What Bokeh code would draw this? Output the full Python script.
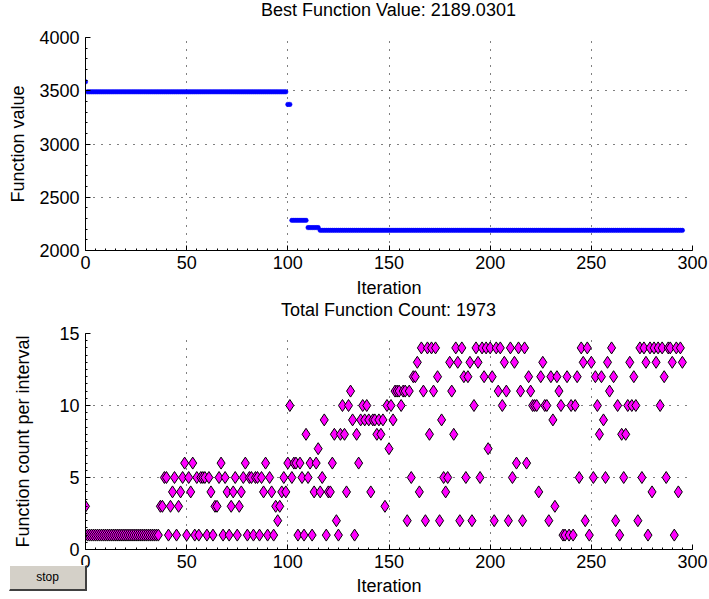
from bokeh.plotting import figure
from bokeh.layouts import column
from bokeh.models import SingleIntervalTicker, Range1d, Div
from bokeh.embed import file_html
from bokeh.resources import INLINE

# ---- data -------------------------------------------------------------
# Best function value: runs of constant value (first iteration, last iteration, value)
run_first = [0, 1, 100, 102, 110, 116]
run_last = [0, 99, 101, 109, 115, 295]
run_value = [3584, 3490, 3372, 2283, 2215, 2189.0301]

# Function count per interval, one value per iteration (0..295)
count_per_interval = [
    3, 1, 1, 1, 1, 1, 1, 1, 1, 1,
    1, 1, 1, 1, 1, 1, 1, 1, 1, 1,
    1, 1, 1, 1, 1, 1, 1, 1, 1, 1,
    1, 1, 1, 1, 1, 1, 1, 3, 3, 5,
    5, 1, 3, 4, 5, 1, 3, 4, 5, 6,
    1, 5, 4, 6, 1, 5, 1, 5, 5, 5,
    1, 5, 4, 1, 3, 3, 5, 6, 1, 5,
    4, 1, 3, 4, 5, 1, 3, 4, 5, 6,
    1, 5, 5, 1, 5, 5, 1, 5, 4, 6,
    1, 5, 4, 1, 3, 2, 3, 4, 5, 4,
    6, 10, 5, 6, 6, 1, 6, 5, 1, 8,
    5, 6, 1, 4, 6, 7, 4, 5, 9, 1,
    4, 4, 6, 8, 2, 1, 8, 10, 8, 4,
    10, 11, 9, 1, 8, 6, 9, 10, 9, 10,
    9, 4, 9, 9, 8, 9, 8, 9, 3, 10,
    7, 10, 9, 11, 11, 11, 10, 11, 11, 2,
    11, 5, 12, 12, 13, 4, 14, 11, 2, 14,
    8, 14, 11, 14, 12, 2, 9, 5, 4, 5,
    13, 11, 8, 14, 13, 2, 14, 12, 5, 12,
    13, 2, 10, 14, 13, 5, 14, 12, 14, 7,
    14, 12, 2, 14, 11, 14, 10, 13, 11, 2,
    14, 5, 13, 6, 14, 11, 2, 14, 6, 12,
    11, 10, 10, 10, 4, 12, 13, 10, 10, 2,
    12, 9, 3, 12, 11, 10, 1, 1, 12, 1,
    10, 1, 10, 12, 5, 14, 13, 2, 14, 1,
    13, 5, 12, 10, 8, 12, 9, 5, 13, 11,
    14, 12, 2, 10, 1, 8, 5, 8, 10, 13,
    10, 12, 10, 2, 14, 5, 14, 13, 1, 14,
    4, 14, 13, 14, 10, 14, 12, 5, 14, 14,
    13, 1, 14, 4, 14, 13,
]

best_title = "Best Function Value: 2189.0301"
count_title = "Total Function Count: 1973"
x_label = "Iteration"
y_label_top = "Function value"
y_label_bottom = "Function count per interval"
button_text = "stop"

best_iter = []
best_val = []
for a, b, v in zip(run_first, run_last, run_value):
    for i in range(a, b + 1):
        best_iter.append(i)
        best_val.append(v)
count_iter = list(range(len(count_per_interval)))

FONT = "Liberation Sans"
FS = "18px"
W = 709
LEFT = 85
RIGHT = 17


def style(p, ylabel, y_interval, y_minor, ylab_standoff, lab_standoff, xlab_standoff):
    p.outline_line_color = None
    p.background_fill_color = "white"
    p.border_fill_color = "white"
    p.xaxis.ticker = SingleIntervalTicker(interval=50, num_minor_ticks=10)
    p.yaxis.ticker = SingleIntervalTicker(interval=y_interval, num_minor_ticks=y_minor)
    for ax in (p.xaxis[0], p.yaxis[0]):
        ax.axis_line_color = "black"
        ax.major_tick_line_color = "black"
        ax.minor_tick_line_color = "black"
        ax.major_tick_in = 5
        ax.major_tick_out = 0
        ax.minor_tick_in = 2
        ax.minor_tick_out = 0
        ax.major_label_text_font = FONT
        ax.major_label_text_font_size = FS
        ax.major_label_text_color = "black"
        ax.axis_label_text_font = FONT
        ax.axis_label_text_font_size = FS
        ax.axis_label_text_font_style = "normal"
        ax.axis_label_text_color = "black"
    p.xaxis.axis_label = x_label
    p.yaxis.axis_label = ylabel
    p.yaxis.major_label_standoff = 6
    p.yaxis.axis_label_standoff = ylab_standoff
    p.xaxis.major_label_standoff = lab_standoff
    p.xaxis.axis_label_standoff = xlab_standoff
    for g in (p.xgrid[0], p.ygrid[0]):
        g.grid_line_color = "black"
        g.grid_line_dash = "1 7"
        g.grid_line_width = 1
    p.xgrid.ticker = p.xaxis.ticker
    p.ygrid.ticker = p.yaxis.ticker


def title_div(text, fig_height):
    html = ('<div style="width:%dpx;margin-left:%dpx;text-align:center;'
            'font-family:\'Liberation Sans\';font-size:18px;line-height:20px;'
            'color:#000;white-space:nowrap;">%s</div>' % (W - LEFT - RIGHT, LEFT, text))
    # overlaid on the top strip of the figure placed just before it
    return Div(text=html, width=W, height=20, margin=(-fig_height, 0, fig_height - 20, 0))


H_TOP = 300
H_BOT = 299

top = figure(width=W, height=H_TOP, output_backend="svg", toolbar_location=None,
             x_range=Range1d(0, 300), y_range=Range1d(2000, 4000),
             min_border_left=LEFT, min_border_right=RIGHT, min_border_top=37,
             min_border_bottom=47)
style(top, y_label_top, 500, 5, 8, 5, 6)
top.scatter(best_iter, best_val, marker="circle", size=4.5,
            fill_color="#0000ff", line_color="#0000ff", line_width=0.5)

bot = figure(width=W, height=H_BOT, output_backend="svg", toolbar_location=None,
             x_range=Range1d(0, 300), y_range=Range1d(0, 15),
             min_border_left=LEFT, min_border_right=RIGHT, min_border_top=33,
             min_border_bottom=50)
style(bot, y_label_bottom, 5, 10, 23, 5, 5)
bot.scatter(count_iter, count_per_interval, marker="diamond", size=12,
            fill_color="#ff00ff", line_color="black", line_width=1)

# the "stop" push button, overlapping the lower-left corner of the lower plot
btn_html = ('<div style="box-sizing:border-box;width:78px;height:26px;background:#d4d0c8;'
            'border-style:solid;border-width:1px 2px 2px 1px;'
            'border-color:#ffffff #404040 #404040 #ffffff;'
            'font-family:\'Liberation Sans\';font-size:12px;line-height:23px;'
            'text-align:center;color:#000;">%s</div>' % button_text)
btn = Div(text=btn_html, width=78, height=26, margin=(-34, 0, 0, 9))

layout = column(top, title_div(best_title, H_TOP), bot, title_div(count_title, H_BOT), btn,
                spacing=0)
open("out.html", "w").write(file_html(layout, INLINE))
